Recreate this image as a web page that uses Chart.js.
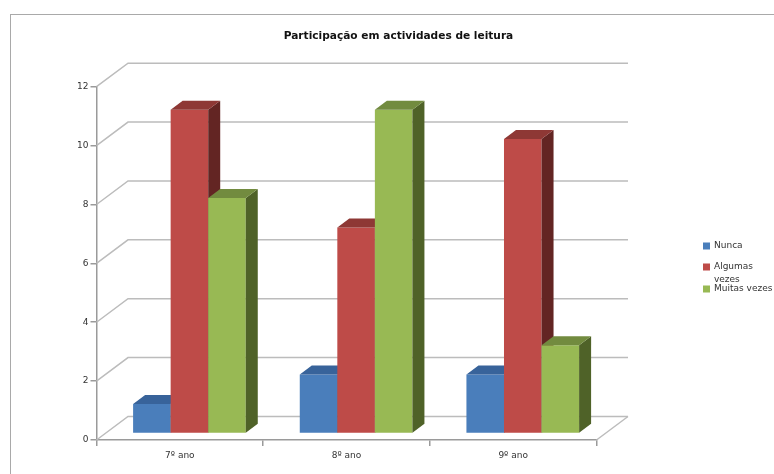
<!DOCTYPE html>
<html lang="pt">
<head>
<meta charset="utf-8">
<title>Participação em actividades de leitura</title>
<script src="https://cdn.jsdelivr.net/npm/chart.js@4"></script>
<style>
    html, body { margin: 0; background: #ffffff; }
    #wrap { position: relative; width: 774px; height: 474px; overflow: hidden; }
    #frame { position: absolute; left: 10px; top: 14px; right: -4px; bottom: -4px; border: 1.5px solid #a9a9a9; }
    canvas { position: absolute; left: 0; top: 0; }
</style>
</head>
<body>
<div id="wrap">
    <div id="frame"></div>
    <canvas id="chart" width="774" height="474"></canvas>
</div>
<script>
const chartTitle = 'Participação em actividades de leitura';
const categories = ['7º ano', '8º ano', '9º ano'];
const seriesNames = ['Nunca', 'Algumas vezes', 'Muitas vezes'];
const nunca = [1, 2, 2];
const algumasVezes = [11, 7, 10];
const muitasVezes = [8, 11, 3];

const textColor = '#333333';
const axisColor = '#9a9a9a';
const gridColor = '#bcbcbc';
const fontFamily = "'DejaVu Sans', sans-serif";

// front, top and side shades of each series
const shades = [
    { front: '#4a7ebb', top: '#38639a', side: '#2c4d75' },
    { front: '#be4b48', top: '#8e3835', side: '#632523' },
    { front: '#98b954', top: '#728b3f', side: '#4f6228' }
];

// Depth of the back wall and of the bars
const wallDx = 31.5, wallDy = 23.5;
const barDx = 12, barDy = 9;
// Bars stand a little inside the floor
const barShiftX = 9.6, barShiftY = -6.5;

const face = (ctx, color, pts) => {
    ctx.fillStyle = color;
    ctx.beginPath();
    pts.forEach(([x, y], i) => i ? ctx.lineTo(x, y) : ctx.moveTo(x, y));
    ctx.closePath();
    ctx.fill();
};

// Side wall and back wall lines behind the bars
const wallPlugin = {
    id: 'wall',
    beforeDatasetsDraw(chart) {
        const { ctx, chartArea, scales } = chart;
        ctx.save();
        ctx.strokeStyle = gridColor;
        ctx.lineWidth = 1.5;
        scales.y.ticks.forEach(tick => {
            const y = scales.y.getPixelForValue(tick.value);
            ctx.beginPath();
            ctx.moveTo(chartArea.left, y);
            ctx.lineTo(chartArea.left + wallDx, y - wallDy);
            ctx.lineTo(chartArea.right + wallDx, y - wallDy);
            ctx.stroke();
        });
        // right edge of the floor
        ctx.beginPath();
        ctx.moveTo(chartArea.right, chartArea.bottom);
        ctx.lineTo(chartArea.right + wallDx, chartArea.bottom - wallDy);
        ctx.stroke();
        ctx.restore();
    }
};

// Draws the bars left to right with their top and side faces, so each
// series covers the side of the one before it. Replaces the default pass.
const extrudePlugin = {
    id: 'extrude',
    beforeDatasetsDraw(chart) {
        const ctx = chart.ctx;
        ctx.save();
        ctx.translate(barShiftX, barShiftY);
        chart.data.datasets.forEach((dataset, i) => {
            chart.getDatasetMeta(i).data.forEach(bar => {
                const x0 = bar.x - bar.width / 2;
                const x1 = bar.x + bar.width / 2;
                bar.draw(ctx);
                face(ctx, shades[i].side, [[x1, bar.y], [x1 + barDx, bar.y - barDy], [x1 + barDx, bar.base - barDy], [x1, bar.base]]);
                face(ctx, shades[i].top, [[x0, bar.y], [x0 + barDx, bar.y - barDy], [x1 + barDx, bar.y - barDy], [x1, bar.y]]);
            });
        });
        ctx.restore();
        return false;
    }
};

// Legend with its own line breaks and spacing
const legendLines = [['Nunca'], ['Algumas', 'vezes'], [seriesNames[2]]];
const legendRows = [246, 267, 289];
const keyPlugin = {
    id: 'key',
    afterDraw(chart) {
        const ctx = chart.ctx;
        ctx.save();
        ctx.font = '9px ' + fontFamily;
        ctx.textBaseline = 'middle';
        legendLines.forEach((lines, i) => {
            ctx.fillStyle = shades[i].front;
            ctx.fillRect(703, legendRows[i] - 3.5, 7, 7);
            ctx.fillStyle = textColor;
            lines.forEach((line, j) => ctx.fillText(line, 714, legendRows[i] + j * 12.5));
        });
        ctx.restore();
    }
};

new Chart(document.getElementById('chart'), {
    type: 'bar',
    data: {
        labels: categories,
        datasets: [
            { label: seriesNames[0], data: nunca, backgroundColor: shades[0].front },
            { label: seriesNames[1], data: algumasVezes, backgroundColor: shades[1].front },
            { label: seriesNames[2], data: muitasVezes, backgroundColor: shades[2].front }
        ]
    },
    options: {
        responsive: false,
        animation: false,
        categoryPercentage: 0.676,
        barPercentage: 1,
        layout: { padding: { left: 0, right: 177.5, top: 0, bottom: 0 } },
        plugins: {
            legend: { display: false },
            tooltip: { enabled: false },
            title: {
                display: true,
                text: chartTitle,
                color: '#111111',
                font: { family: fontFamily, size: 10.6, weight: 'bold' },
                padding: { top: 30, bottom: 44 }
            }
        },
        scales: {
            x: {
                afterFit: scale => { scale.height = 34; },
                border: { color: axisColor, width: 1.5 },
                grid: { drawOnChartArea: false, color: axisColor, lineWidth: 1.5, tickLength: 6 },
                ticks: { color: textColor, font: { family: fontFamily, size: 9 }, padding: 4 }
            },
            y: {
                min: 0,
                max: 12,
                afterFit: scale => { scale.width = 96.5; },
                border: { color: axisColor, width: 1.5 },
                grid: { drawOnChartArea: false, color: axisColor, lineWidth: 1.5, tickLength: 6 },
                ticks: { stepSize: 2, color: textColor, font: { family: fontFamily, size: 9 }, padding: 2 }
            }
        }
    },
    plugins: [
        wallPlugin,
        extrudePlugin,
        keyPlugin,
        {
            // the title is centred over the whole frame, not the plot
            id: 'titleSpan',
            afterLayout(chart) {
                chart.titleBlock.left = 24;
                chart.titleBlock.right = 773;
            }
        }
    ]
});
</script>
</body>
</html>
